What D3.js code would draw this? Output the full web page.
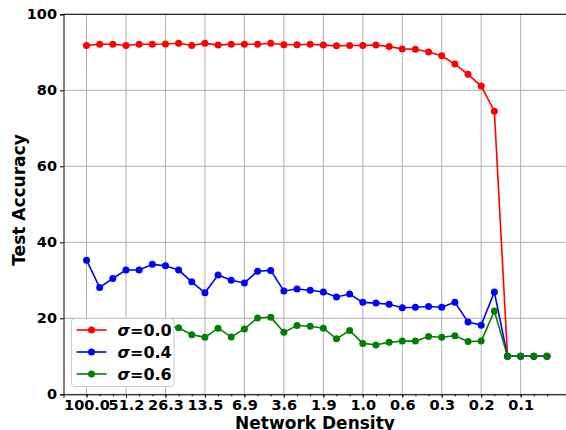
<!DOCTYPE html>
<meta charset="utf-8">
<style>
body { margin: 0; background: white; }
svg { font-family: "DejaVu Sans", sans-serif; font-weight: bold; }
.grid line { stroke: #b0b0b0; stroke-width: 1; }
</style>
<svg></svg>
<script src="https://cdn.jsdelivr.net/npm/d3@7/dist/d3.min.js"></script>
<script>

var tickLabels = ['100.0', '51.2', '26.3', '13.5', '6.9', '3.6', '1.9', '1.0', '0.6', '0.3', '0.2', '0.1']

var acc00 = [91.8, 92.1, 92.1, 91.8, 92.1, 92.1, 92.2, 92.4, 91.8, 92.4, 91.9, 92.1,
             92.1, 92.1, 92.4, 92.0, 92.0, 92.1, 91.9, 91.7, 91.8, 91.8, 91.9, 91.5,
             90.9, 90.8, 90.1, 89.1, 86.9, 84.2, 81.1, 74.5, 10.0, 10.0, 10.0, 10.0]
var acc04 = [35.3, 28.1, 30.5, 32.7, 32.7, 34.2, 33.8, 32.7, 29.6, 26.7, 31.4, 30.0,
             29.3, 32.4, 32.6, 27.2, 27.7, 27.4, 26.9, 25.6, 26.4, 24.2, 24.0, 23.7,
             22.8, 22.9, 23.1, 22.9, 24.2, 19.0, 18.2, 26.9, 10.0, 10.0, 10.0, 10.0]
var acc06 = [18.0, 17.2, 17.8, 18.3, 18.0, 18.4, 17.9, 17.5, 15.7, 15.0, 17.4, 15.1,
             17.2, 20.1, 20.3, 16.3, 18.1, 17.9, 17.4, 14.6, 16.8, 13.4, 13.0, 13.7,
             14.0, 14.0, 15.2, 15.0, 15.4, 13.9, 14.0, 21.9, 10.0, 10.0, 10.0, 10.0]

var series = [
    {name: '0.0', color: 'red', values: acc00},
    {name: '0.4', color: 'blue', values: acc04},
    {name: '0.6', color: 'green', values: acc06}
]

var width = 566,
    height = 430,
    pLeft = 63.5, pRight = 570, pTop = 14.3, pBottom = 394.3

var n = acc00.length

var svg = d3.select('svg')
            .attr('width', width)
            .attr('height', height)

var x = d3.scaleLinear().domain([-0.05 * (n - 1), (n - 1) * 1.05]).range([pLeft, pRight])
var y = d3.scaleLinear().domain([0, 100]).range([pBottom, pTop])

var majorIdx = d3.range(0, n, 3).slice(0, tickLabels.length)

// grid
var grid = svg.append('g').attr('class', 'grid')
grid.selectAll('.gx')
    .data(majorIdx)
    .enter().append('line')
    .attr('x1', (d) => x(d)).attr('x2', (d) => x(d))
    .attr('y1', pTop).attr('y2', pBottom)
grid.selectAll('.gy')
    .data(y.ticks(5))
    .enter().append('line')
    .attr('x1', pLeft).attr('x2', pRight)
    .attr('y1', (d) => y(d)).attr('y2', (d) => y(d))

// axes
var xAxis = d3.axisBottom(x)
              .tickValues(majorIdx)
              .tickFormat((d, i) => tickLabels[i])
              .tickSize(3.5)
              .tickPadding(2)
var xMinor = d3.axisBottom(x)
              .tickValues(d3.range(n))
              .tickFormat('')
              .tickSize(2)
var yAxis = d3.axisLeft(y).ticks(5).tickSize(3.5).tickPadding(3)

var gX = svg.append('g').attr('transform', 'translate(0,' + pBottom + ')').call(xMinor)
gX.select('.domain').remove()
svg.append('g').attr('transform', 'translate(0,' + pBottom + ')').call(xAxis)
svg.append('g').attr('transform', 'translate(' + pLeft + ',0)').call(yAxis)

svg.selectAll('.tick text')
    .style('font-size', '14.5px')
    .style('font-weight', 'bold')
    .style('font-family', '"DejaVu Sans", sans-serif')
    .attr('fill', 'black')
svg.selectAll('.domain').attr('stroke', 'black')

svg.append('line')
    .attr('x1', pLeft).attr('x2', pRight)
    .attr('y1', pTop).attr('y2', pTop)
    .attr('stroke', 'black')

// lines
var line = d3.line()
             .x((d, i) => x(i))
             .y((d) => y(d))

var plot = svg.append('g')
series.forEach(function (s) {
    plot.append('path')
        .datum(s.values)
        .attr('d', line)
        .attr('fill', 'none')
        .attr('stroke', s.color)
        .attr('stroke-width', 1.6)
    plot.selectAll('.p' + s.color)
        .data(s.values)
        .enter().append('circle')
        .attr('cx', (d, i) => x(i))
        .attr('cy', (d) => y(d))
        .attr('r', 3.5)
        .attr('fill', s.color)
})

// labels
svg.append('text')
    .attr('x', 315)
    .attr('y', 428.5)
    .attr('text-anchor', 'middle')
    .style('font-size', '17px')
    .text('Network Density')

svg.append('text')
    .attr('transform', 'translate(25,' + 200 + ') rotate(-90)')
    .attr('text-anchor', 'middle')
    .style('font-size', '17px')
    .text('Test Accuracy')

// legend
var lg = svg.append('g').attr('transform', 'translate(71.5,318.5)')
lg.append('rect')
    .attr('width', 102.5)
    .attr('height', 68)
    .attr('rx', 3)
    .attr('fill', 'white')
    .attr('stroke', '#cccccc')

var item = lg.selectAll('.item')
    .data(series)
    .enter().append('g')
    .attr('transform', (d, i) => 'translate(0,' + (11.5 + i * 22) + ')')
item.append('line')
    .attr('x1', 5).attr('x2', 35)
    .attr('stroke', (d) => d.color)
    .attr('stroke-width', 1.6)
item.append('circle')
    .attr('cx', 20)
    .attr('r', 3.5)
    .attr('fill', (d) => d.color)
var lt = item.append('text')
    .attr('x', 46)
    .attr('y', 5.5)
    .style('font-size', '16px')
lt.append('tspan').style('font-style', 'italic').text('σ')
lt.append('tspan').text((d) => '=' + d.name)

</script>
